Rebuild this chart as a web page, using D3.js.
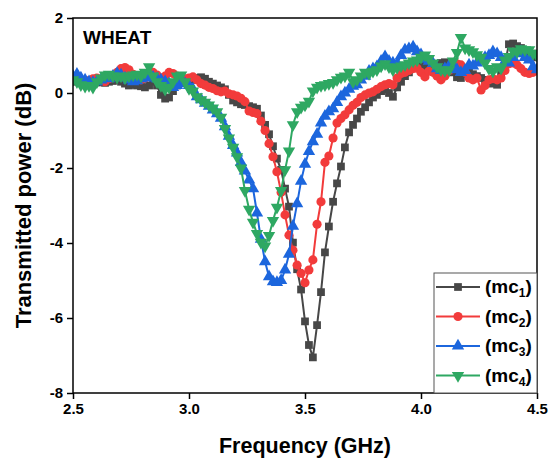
<!DOCTYPE html>
<html>
<head>
<meta charset="utf-8">
<script src="https://cdn.jsdelivr.net/npm/d3@7"></script>
<style>
  body { margin: 0; background: #fff; }
  svg text { font-family: Arial, "Liberation Sans", sans-serif; font-weight: bold; fill: #000; }
</style>
</head>
<body>
<div id="chart"></div>
<script>
"use strict"

// outer size and plot box (pixels)
const WIDTH = 549, HEIGHT = 460
const PLOT = { left: 73, right: 537, top: 18, bottom: 393 }

// frequency sweep (GHz), 117 points
const freq = [
    2.500, 2.517, 2.534, 2.552, 2.569, 2.586, 2.603, 2.621, 2.638, 2.655, 2.672, 2.690, 2.707, 2.724, 2.741, 2.759, 2.776, 2.793, 2.810, 2.828, 2.845, 2.862, 2.879, 2.897, 2.914, 2.931, 2.948, 2.966, 2.983,
    3.000, 3.017, 3.034, 3.052, 3.069, 3.086, 3.103, 3.121, 3.138, 3.155, 3.172, 3.190, 3.207, 3.224, 3.241, 3.259, 3.276, 3.293, 3.310, 3.328, 3.345, 3.362, 3.379, 3.397, 3.414, 3.431, 3.448, 3.466, 3.483,
    3.500, 3.517, 3.534, 3.552, 3.569, 3.586, 3.603, 3.621, 3.638, 3.655, 3.672, 3.690, 3.707, 3.724, 3.741, 3.759, 3.776, 3.793, 3.810, 3.828, 3.845, 3.862, 3.879, 3.897, 3.914, 3.931, 3.948, 3.966, 3.983,
    4.000, 4.017, 4.034, 4.052, 4.069, 4.086, 4.103, 4.121, 4.138, 4.155, 4.172, 4.190, 4.207, 4.224, 4.241, 4.259, 4.276, 4.293, 4.310, 4.328, 4.345, 4.362, 4.379, 4.397, 4.414, 4.431, 4.448, 4.466, 4.483,
    4.500
]

// transmitted power (dB) for each moisture content
const mc1 = [
    0.30, 0.32, 0.30, 0.25, 0.22, 0.25, 0.28, 0.30, 0.27, 0.30, 0.32, 0.35, 0.30, 0.25, 0.20, 0.22, 0.20, 0.18, 0.15, 0.20, 0.30, 0.20, -0.05, -0.15, -0.12, 0.05, 0.20, 0.30, 0.35,
    0.38, 0.35, 0.40, 0.42, 0.38, 0.30, 0.25, 0.20, 0.15, 0.10, -0.05, -0.20, -0.25, -0.30, -0.32, -0.35, -0.38, -0.42, -0.60, -0.85, -1.10, -1.42, -1.75, -2.05, -2.55, -3.03, -3.99, -4.70, -5.24,
    -6.09, -6.72, -7.05, -6.19, -5.31, -4.25, -3.56, -2.90, -2.41, -1.96, -1.45, -1.05, -0.85, -0.68, -0.50, -0.38, -0.25, -0.12, -0.05, 0.05, 0.10, 0.00, -0.10, 0.15, 0.30, 0.45, 0.55, 0.68, 0.75,
    0.80, 0.70, 0.65, 0.75, 0.70, 0.80, 0.82, 0.70, 0.55, 0.42, 0.40, 0.50, 0.55, 0.50, 0.45, 0.40, 0.35, 0.30, 0.25, 0.22, 0.50, 0.80, 1.30, 1.32, 1.25, 1.20, 1.10, 1.00, 1.05, 0.95
]
const mc2 = [
    0.35, 0.38, 0.35, 0.30, 0.33, 0.38, 0.40, 0.35, 0.30, 0.38, 0.45, 0.55, 0.65, 0.68, 0.62, 0.50, 0.40, 0.35, 0.40, 0.50, 0.55, 0.48, 0.40, 0.45, 0.55, 0.52, 0.45, 0.40, 0.38,
    0.40, 0.43, 0.35, 0.25, 0.21, 0.15, 0.12, 0.06, 0.03, 0.05, -0.02, -0.05, -0.08, -0.14, -0.23, -0.48, -0.52, -0.55, -0.75, -1.00, -1.35, -1.70, -2.10, -2.65, -3.25, -3.79, -4.19, -4.59, -4.81,
    -5.06, -4.72, -4.45, -3.50, -2.90, -1.85, -1.68, -1.20, -0.80, -0.68, -0.58, -0.45, -0.33, -0.25, -0.12, -0.05, 0.00, 0.03, 0.10, 0.17, 0.22, 0.25, 0.22, 0.40, 0.52, 0.55, 0.60, 0.65, 0.66,
    0.55, 0.43, 0.58, 0.55, 0.45, 0.35, 0.45, 0.60, 0.70, 0.78, 0.75, 0.55, 0.40, 0.35, 0.40, 0.08, 0.20, 0.35, 0.38, 0.35, 0.40, 0.60, 0.78, 0.80, 0.75, 0.65, 0.55, 0.52, 0.55, 0.60
]
const mc3 = [
    0.45, 0.50, 0.40, 0.35, 0.30, 0.28, 0.30, 0.35, 0.40, 0.38, 0.45, 0.52, 0.48, 0.40, 0.35, 0.30, 0.33, 0.38, 0.40, 0.45, 0.42, 0.38, 0.35, 0.30, 0.25, 0.15, 0.20, 0.28, 0.25,
    0.20, 0.10, -0.10, -0.18, -0.27, -0.35, -0.45, -0.55, -0.67, -0.90, -1.15, -1.40, -1.60, -1.85, -2.08, -2.32, -2.55, -3.20, -3.90, -4.50, -4.90, -5.03, -5.05, -5.00, -4.72, -4.30, -3.55, -2.95, -2.35,
    -1.90, -1.56, -1.30, -1.10, -0.80, -0.62, -0.50, -0.42, -0.25, -0.10, 0.00, 0.10, 0.18, 0.22, 0.35, 0.45, 0.58, 0.65, 0.70, 0.85, 0.97, 0.85, 0.80, 0.79, 1.00, 1.15, 1.18, 1.23, 1.10,
    1.02, 0.90, 0.85, 0.79, 0.65, 0.60, 0.65, 0.72, 0.75, 0.62, 0.55, 0.60, 0.75, 0.72, 0.80, 0.90, 0.95, 1.00, 1.10, 1.05, 0.95, 0.85, 0.80, 0.95, 1.05, 1.10, 0.95, 0.88, 0.70, 0.62
]
const mc4 = [
    0.35, 0.30, 0.22, 0.18, 0.20, 0.15, 0.30, 0.40, 0.48, 0.50, 0.45, 0.42, 0.45, 0.40, 0.45, 0.48, 0.50, 0.45, 0.55, 0.70, 0.45, 0.30, 0.20, 0.10, 0.15, 0.30, 0.45, 0.48, 0.30,
    0.12, 0.05, -0.10, -0.18, -0.25, -0.32, -0.40, -0.50, -0.65, -0.95, -1.20, -1.45, -1.70, -2.00, -2.60, -3.10, -3.45, -3.75, -3.98, -4.08, -3.80, -3.40, -3.05, -2.60, -2.05, -1.55, -0.85, -0.50, -0.38,
    -0.32, -0.22, 0.05, 0.15, 0.20, 0.22, 0.25, 0.28, 0.35, 0.42, 0.45, 0.55, 0.30, 0.35, 0.45, 0.55, 0.52, 0.58, 0.62, 0.72, 0.78, 0.70, 0.62, 0.68, 0.72, 0.75, 0.80, 0.85, 0.88,
    0.95, 1.01, 0.92, 0.80, 0.70, 0.62, 0.60, 0.62, 0.85, 1.08, 1.48, 1.20, 1.15, 1.10, 1.02, 0.95, 0.80, 0.65, 0.58, 0.70, 0.66, 0.88, 0.97, 1.12, 1.10, 1.18, 1.15, 1.15, 1.06, 1.00
]

// legend subscripts and axis ticks
const seriesSubs = ["1", "2", "3", "4"]
const xTicks = [2.5, 3.0, 3.5, 4.0, 4.5]
const yTicks = [-8, -6, -4, -2, 0, 2]

// styling for each series, in drawing order
const styles = [
    { color: "#474747", symbol: d3.symbolSquare, size: 60, rotate: 0 },
    { color: "#f23b3b", symbol: d3.symbolCircle, size: 66, rotate: 0 },
    { color: "#1c66dd", symbol: d3.symbolTriangle, size: 66, rotate: 0 },
    { color: "#2ea862", symbol: d3.symbolTriangle, size: 66, rotate: 180 }
]
const series = [mc1, mc2, mc3, mc4].map((values, k) => {
    return Object.assign({ sub: seriesSubs[k], points: values.map((v, i) => ({ f: freq[i], v: v })) }, styles[k])
})

const svg = d3.select("#chart").append("svg")
    .attr("width", WIDTH).attr("height", HEIGHT)

const x = d3.scaleLinear().domain([2.5, 4.5]).range([PLOT.left, PLOT.right])
const y = d3.scaleLinear().domain([-8, 2]).range([PLOT.bottom, PLOT.top])

// clip so edge markers stay inside the frame
svg.append("clipPath").attr("id", "plotclip").append("rect")
    .attr("x", PLOT.left).attr("y", PLOT.top)
    .attr("width", PLOT.right - PLOT.left).attr("height", PLOT.bottom - PLOT.top)

const dataLayer = svg.append("g").attr("clip-path", "url(#plotclip)")

const lineGen = d3.line().x(d => x(d.f)).y(d => y(d.v))

series.forEach(s => {
    const g = dataLayer.append("g")
    g.append("path").attr("d", lineGen(s.points))
        .attr("fill", "none").attr("stroke", s.color).attr("stroke-width", 2)
    const sym = d3.symbol().type(s.symbol).size(s.size)
    g.selectAll("path.pt").data(s.points).join("path").attr("class", "pt")
        .attr("d", sym)
        .attr("transform", d => "translate(" + x(d.f) + "," + y(d.v) + ") rotate(" + s.rotate + ")")
        .attr("fill", s.color)
})

// axes
const xAxis = svg.append("g").attr("transform", "translate(0," + PLOT.bottom + ")")
    .call(d3.axisBottom(x).tickValues(xTicks).tickFormat(d3.format(".1f")).tickSize(6).tickPadding(4))
const yAxis = svg.append("g").attr("transform", "translate(" + PLOT.left + ",0)")
    .call(d3.axisLeft(y).tickValues(yTicks).tickFormat(d => String(d)).tickSize(6).tickPadding(4))

;[xAxis, yAxis].forEach(a => {
    a.select(".domain").remove()
    a.selectAll(".tick line").attr("stroke", "#000").attr("stroke-width", 1.5)
    a.selectAll(".tick text").style("font-size", "15px")
})

// frame
svg.append("rect")
    .attr("x", PLOT.left).attr("y", PLOT.top)
    .attr("width", PLOT.right - PLOT.left).attr("height", PLOT.bottom - PLOT.top)
    .attr("fill", "none").attr("stroke", "#000").attr("stroke-width", 1.5)

// sample label
svg.append("text").attr("x", 83).attr("y", 44).style("font-size", "19px").text("WHEAT")

// axis titles
svg.append("text").attr("x", 305).attr("y", 453).attr("text-anchor", "middle")
    .style("font-size", "21.5px").text("Frequency (GHz)")
svg.append("text").attr("transform", "translate(31," + ((PLOT.top + PLOT.bottom) / 2) + ") rotate(-90)")
    .attr("text-anchor", "middle").style("font-size", "22px").text("Transmitted power (dB)")

// legend
const legend = svg.append("g")
legend.append("rect").attr("x", 434).attr("y", 273).attr("width", PLOT.right - 434).attr("height", PLOT.bottom - 273)
    .attr("fill", "#fff").attr("stroke", "#555").attr("stroke-width", 1)

series.forEach((s, k) => {
    const ly = 287 + k * 29.5
    const g = legend.append("g")
    g.append("line").attr("x1", 436).attr("x2", 480).attr("y1", ly).attr("y2", ly)
        .attr("stroke", s.color).attr("stroke-width", 2)
    g.append("path").attr("d", d3.symbol().type(s.symbol).size(s.size)())
        .attr("transform", "translate(458," + ly + ") rotate(" + s.rotate + ")").attr("fill", s.color)
    const t = g.append("text").attr("x", 485).attr("y", ly + 6).style("font-size", "19px")
    t.append("tspan").text("(mc")
    t.append("tspan").attr("dy", 4).style("font-size", "12px").text(s.sub)
    t.append("tspan").attr("dy", -4).text(")")
})
</script>
</body>
</html>
